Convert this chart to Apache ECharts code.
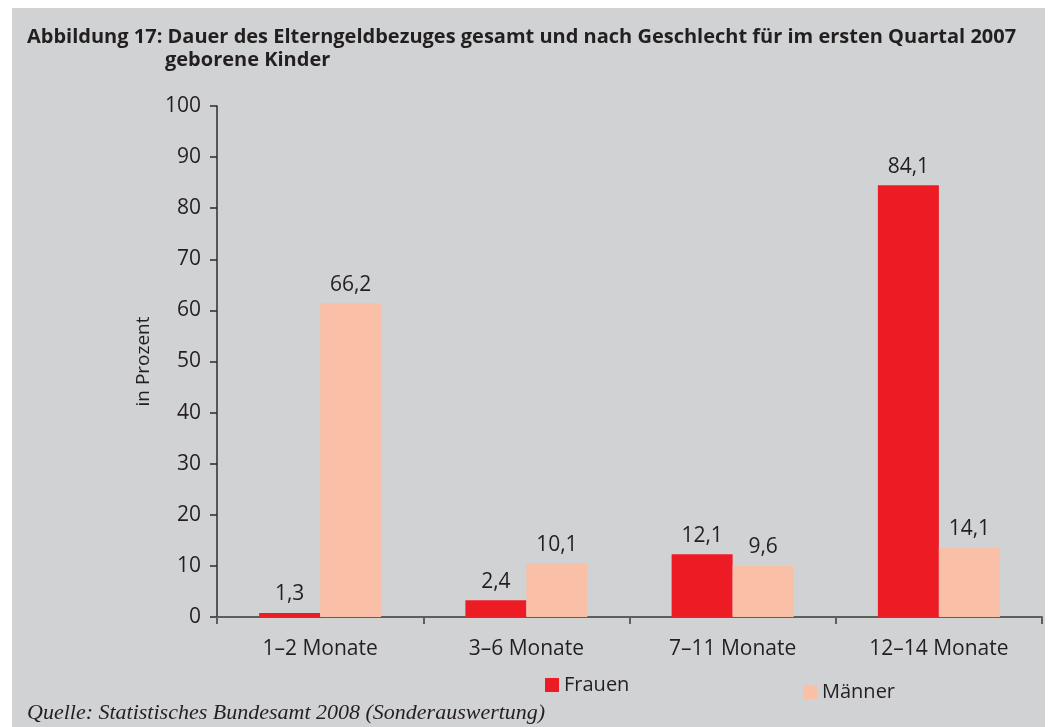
<!DOCTYPE html>
<html>
<head>
<meta charset="utf-8">
<title>Abbildung 17</title>
<script src="https://cdn.jsdelivr.net/npm/echarts@6/dist/echarts.min.js"></script>
<style>
  html, body { margin: 0; padding: 0; background: #ffffff; }
  #chart { width: 1050px; height: 727px; }
</style>
</head>
<body>
<div id="chart"></div>
<script>
// Kategorien und Werte (Balkenhöhen, Beschriftung wie gedruckt)
var kategorien = ['1–2 Monate', '3–6 Monate', '7–11 Monate', '12–14 Monate']
var frauenWerte = [0.8, 3.3, 12.3, 84.5]
var maennerWerte = [61.4, 10.5, 10.0, 13.6]
var frauenLabels = ['1,3', '2,4', '12,1', '84,1']
var maennerLabels = ['66,2', '10,1', '9,6', '14,1']
var yTicks = [0, 10, 20, 30, 40, 50, 60, 70, 80, 90, 100]

var sans = '"Open Sans", "DejaVu Sans", sans-serif'
var textColor = '#231f20'

var chart = echarts.init(document.getElementById('chart'))

chart.setOption({
  animation: false,
  backgroundColor: '#ffffff',
  graphic: [
    {
      type: 'rect',
      z: -10,
      shape: { x: 12, y: 8, width: 1033, height: 719 },
      style: { fill: '#d1d2d4' }
    },
    {
      type: 'text',
      left: 27,
      top: 27,
      style: {
        text: 'Abbildung 17: Dauer des Elterngeldbezuges gesamt und nach Geschlecht für im ersten Quartal 2007',
        font: 'bold 20px ' + sans,
        fill: textColor
      }
    },
    {
      type: 'text',
      left: 165,
      top: 50,
      style: {
        text: 'geborene Kinder',
        font: 'bold 20px ' + sans,
        fill: textColor
      }
    },
    {
      type: 'text',
      left: 27,
      top: 702,
      style: {
        text: 'Quelle: Statistisches Bundesamt 2008 (Sonderauswertung)',
        font: 'italic 22px "Liberation Serif", "DejaVu Serif", serif',
        fill: textColor
      }
    }
  ],
  grid: {
    left: 217,
    right: 8,
    top: 106,
    bottom: 110
  },
  legend: [
    {
      data: ['Frauen'],
      left: 540,
      top: 670,
      icon: 'rect',
      itemWidth: 14,
      itemHeight: 14,
      itemGap: 6,
      textStyle: { fontFamily: sans, fontSize: 20, color: textColor }
    },
    {
      data: ['Männer'],
      left: 798,
      top: 677,
      icon: 'rect',
      itemWidth: 14,
      itemHeight: 14,
      itemGap: 6,
      textStyle: { fontFamily: sans, fontSize: 20, color: textColor }
    }
  ],
  xAxis: {
    type: 'category',
    data: kategorien,
    axisLine: { show: true, lineStyle: { color: '#5c605c', width: 2 } },
    axisTick: { show: true, length: 7, lineStyle: { color: '#5c605c', width: 2 } },
    axisLabel: {
      margin: 22,
      fontFamily: sans,
      fontSize: 21,
      color: textColor
    }
  },
  yAxis: {
    type: 'value',
    min: 0,
    max: 100,
    interval: 10,
    name: 'in Prozent',
    nameLocation: 'middle',
    nameRotate: 90,
    nameGap: 64,
    nameTextStyle: { fontFamily: sans, fontSize: 19, color: textColor },
    axisLine: { show: true, lineStyle: { color: '#2b2b2b', width: 1.5 } },
    axisTick: { show: true, length: 7, lineStyle: { color: '#2b2b2b', width: 1.5 } },
    splitLine: { show: false },
    axisLabel: {
      margin: 16,
      fontFamily: sans,
      fontSize: 21,
      color: textColor,
      formatter: function (v) { return yTicks.indexOf(v) > -1 ? String(v) : '' }
    }
  },
  series: [
    {
      name: 'Frauen',
      type: 'bar',
      data: frauenWerte,
      barWidth: 61,
      barGap: '0%',
      itemStyle: { color: '#ed1c24' },
      label: {
        show: true,
        position: 'top',
        distance: 8,
        fontFamily: sans,
        fontSize: 21,
        color: textColor,
        formatter: function (p) { return frauenLabels[p.dataIndex] }
      }
    },
    {
      name: 'Männer',
      type: 'bar',
      data: maennerWerte,
      barWidth: 61,
      barGap: '0%',
      itemStyle: { color: '#f9bfa7' },
      label: {
        show: true,
        position: 'top',
        distance: 8,
        fontFamily: sans,
        fontSize: 21,
        color: textColor,
        formatter: function (p) { return maennerLabels[p.dataIndex] }
      }
    }
  ]
})
</script>
</body>
</html>
